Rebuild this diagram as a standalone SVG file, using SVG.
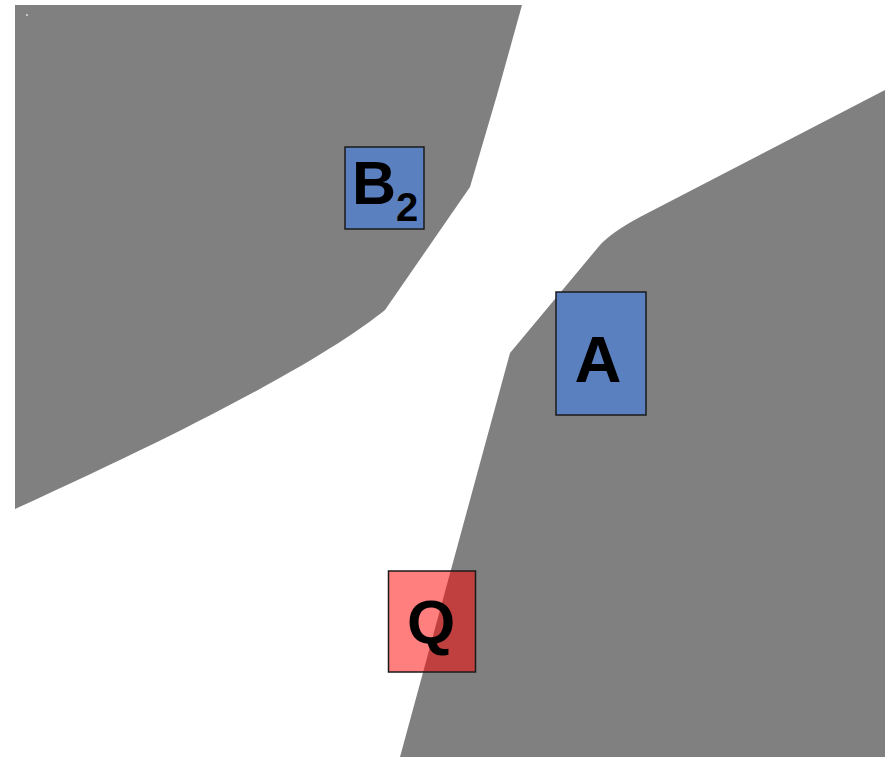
<svg xmlns="http://www.w3.org/2000/svg" width="885" height="757" viewBox="0 0 885 757">
<style>
.region{fill:#808080;stroke:none}
.box{stroke:#1a1a1a;stroke-width:1.5}
.blue{fill:#5b80c0}
.red{fill:#ff0000;fill-opacity:0.5}
.lbl{font-family:"Liberation Sans",Arial,sans-serif;font-weight:bold;fill:#000}
</style>
<rect width="885" height="757" fill="#ffffff"/>
<g id="region-left">
<path class="region" d="M15,5 L522,5 L497,95 L470,187 L385,310 C345,342 255,400 15,509 Z"/>
<rect x="26" y="14" width="2" height="2" fill="#c8c8c8"/>
</g>
<g id="region-right">
<path class="region" d="M885,90 L640,217 Q612,232 600,245 L510,353 L400,757 L885,757 Z"/>
</g>
<g id="node-B2">
<rect class="box blue" x="345" y="147" width="79" height="82"/>
<text class="lbl" x="352" y="204" font-size="61">B<tspan font-size="40" dy="17">2</tspan></text>
</g>
<g id="node-A">
<rect class="box blue" x="556" y="292" width="90" height="123"/>
<text class="lbl" x="598" y="382" font-size="65" text-anchor="middle">A</text>
</g>
<g id="node-Q">
<rect class="box red" x="388.5" y="571" width="87" height="101"/>
<text class="lbl" x="431" y="643" font-size="62" text-anchor="middle">Q</text>
</g>
<g id="connectors"/>
</svg>
